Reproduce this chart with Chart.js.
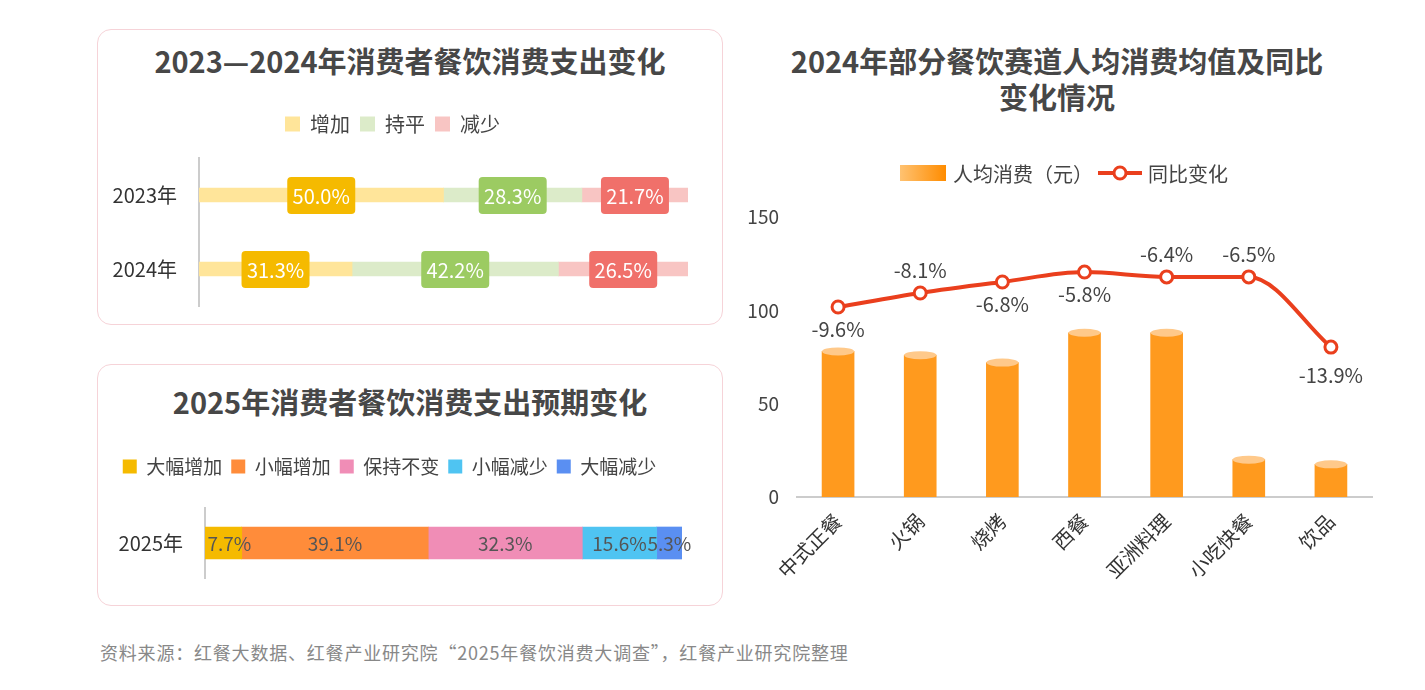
<!DOCTYPE html>
<html><head><meta charset="utf-8">
<script src="https://cdn.jsdelivr.net/npm/chart.js@4.4.1/dist/chart.umd.min.js"></script>
<style>
body{margin:0;width:1425px;height:690px;background:#fff;font-family:"Noto Sans CJK SC","Noto Sans",sans-serif;position:relative;overflow:hidden;color:#444}
.panel{position:absolute;border:1.5px solid #f6d3d8;border-radius:14px;box-sizing:border-box}
.title{position:absolute;font-weight:bold;font-size:29px;color:#474747;text-align:center;line-height:36px}
.cv{position:absolute}
.src{position:absolute;left:100px;top:639px;font-size:18px;color:#888;letter-spacing:0.8px}
</style></head><body>
<div class="panel" style="left:97px;top:29px;width:626px;height:296px"></div>
<div class="panel" style="left:97px;top:364px;width:626px;height:242px"></div>
<div class="title" style="left:97px;top:42px;width:626px">2023—2024年消费者餐饮消费支出变化</div>
<div class="title" style="left:97px;top:383px;width:626px">2025年消费者餐饮消费支出预期变化</div>
<div class="title" style="left:740px;top:42px;width:634px">2024年部分餐饮赛道人均消费均值及同比<br>变化情况</div>
<div class="cv" style="left:97px;top:104px;width:626px;height:228px"><canvas id="c1"></canvas></div>
<div class="cv" style="left:97px;top:448px;width:626px;height:156px"><canvas id="c2"></canvas></div>
<div class="cv" style="left:740px;top:152px;width:685px;height:460px"><canvas id="c3"></canvas></div>
<div class="src">资料来源：红餐大数据、红餐产业研究院“2025年餐饮消费大调查”，红餐产业研究院整理</div>
<script>
const years1=['2023年','2024年'];
const inc=[50.0,31.3], flat=[28.3,42.2], dec=[21.7,26.5];
const years2=['2025年'];
const s2Names=['大幅增加','小幅增加','保持不变','小幅减少','大幅减少'];
const s2Vals=[[7.7],[39.1],[32.3],[15.6],[5.3]];
const cats=['中式正餐','火锅','烧烤','西餐','亚洲料理','小吃快餐','饮品'];
const spend=[78,76,72,88,88,20,17.5];
const yoyPos=[101.8,109.3,115.2,120.5,117.9,117.9,80.3];
const yoyLabels=['-9.6%','-8.1%','-6.8%','-5.8%','-6.4%','-6.5%','-13.9%'];
const yTicks=[0,50,100,150];

Chart.defaults.font.family='"Noto Sans CJK SC","Noto Sans",sans-serif';
Chart.defaults.color='#444';
Chart.defaults.animation=false;

function rr(ctx,x,y,w,h,r){ctx.beginPath();ctx.moveTo(x+r,y);ctx.arcTo(x+w,y,x+w,y+h,r);ctx.arcTo(x+w,y+h,x,y+h,r);ctx.arcTo(x,y+h,x,y,r);ctx.arcTo(x,y,x+w,y,r);ctx.closePath();}
function legendExtra(h){return {id:'lx',beforeInit(ch){const L=ch.legend;const f=L.fit;L.fit=function(){f.call(L);L.height+=h;};}};}

const boxCols=['#F5BA00','#9CCB62','#F0706A'];
new Chart(document.getElementById('c1'),{type:'bar',
 data:{labels:years1,datasets:[
  {label:'增加',data:inc,backgroundColor:'#FFE59A'},
  {label:'持平',data:flat,backgroundColor:'#DCEBC9'},
  {label:'减少',data:dec,backgroundColor:'#F8C5C3'}]},
 options:{indexAxis:'y',responsive:true,maintainAspectRatio:false,
  layout:{padding:{right:35,bottom:4}},
  datasets:{bar:{barThickness:14,borderSkipped:false}},
  plugins:{legend:{labels:{boxWidth:15,boxHeight:15,font:{size:20},color:'#444',padding:10}},tooltip:{enabled:false}},
  scales:{x:{stacked:true,min:0,max:100,display:false},
   y:{stacked:true,grid:{display:false},border:{color:'#ccc',width:2},ticks:{font:{size:20},color:'#333',padding:14},afterFit:s=>{s.width=102}}}},
 plugins:[legendExtra(14),{afterDatasetsDraw(ch){const c=ch.ctx;ch.data.datasets.forEach((ds,i)=>{ch.getDatasetMeta(i).data.forEach((el,j)=>{const cx=(el.x+el.base)/2;c.fillStyle=boxCols[i];rr(c,cx-34,el.y-18,68,37,4);c.fill();c.fillStyle='#fff';c.font='20px "Noto Sans CJK SC"';c.textAlign='center';c.textBaseline='middle';c.fillText(ds.data[j].toFixed(1)+'%',cx,el.y+1);});});}}]
});

const c2cols=['#F5BA00','#FF8C3A','#F08DB6','#4FC4F2','#5A8FF2'];
new Chart(document.getElementById('c2'),{type:'bar',
 data:{labels:years2,datasets:s2Names.map((n,i)=>({label:n,data:s2Vals[i],backgroundColor:c2cols[i]}))},
 options:{indexAxis:'y',responsive:true,maintainAspectRatio:false,
  layout:{padding:{right:41,bottom:16}},
  datasets:{bar:{barThickness:32}},
  plugins:{legend:{labels:{boxWidth:14,boxHeight:14,font:{size:19},color:'#444',padding:9}},tooltip:{enabled:false}},
  scales:{x:{stacked:true,min:0,max:100,display:false},
   y:{stacked:true,grid:{display:false},border:{color:'#ccc',width:2},ticks:{font:{size:20},color:'#333',padding:14},afterFit:s=>{s.width=108}}}},
 plugins:[legendExtra(22),{afterDatasetsDraw(ch){const c=ch.ctx;ch.data.datasets.forEach((ds,i)=>{ch.getDatasetMeta(i).data.forEach((el,j)=>{let cx=(el.x+el.base)/2;if(i==0)cx+=6;c.fillStyle='#555';c.font='19px "Noto Sans CJK SC"';c.textAlign='center';c.textBaseline='middle';c.fillText(ds.data[j]+'%',cx,el.y+1);});});}}]
});

function barGrad(ctx){const el=ctx.element;const ch=ctx.chart;if(!el||el.x===undefined||isNaN(el.x))return '#FF9A1E';
 const g=ch.ctx.createLinearGradient(el.x-16,0,el.x+16,0);g.addColorStop(0,'#FFC271');g.addColorStop(0.5,'#FF9A1E');g.addColorStop(1,'#FF8C00');return g;}
const below=[true,false,true,true,false,false,true];
new Chart(document.getElementById('c3'),{
 data:{labels:cats,datasets:[
  {type:'line',label:'同比变化',data:yoyPos,borderColor:'#EA3F1D',borderWidth:4,tension:0.4,cubicInterpolationMode:'monotone',pointRadius:6,pointBackgroundColor:'#fff',pointBorderColor:'#EA3F1D',pointBorderWidth:3,order:0},
  {type:'bar',label:'人均消费（元）',data:spend,backgroundColor:barGrad,barThickness:32,order:1}]},
 options:{responsive:true,maintainAspectRatio:false,layout:{padding:{right:53,top:65}},
  plugins:{legend:{display:false},tooltip:{enabled:false}},
  scales:{y:{min:0,max:150,afterBuildTicks:s=>{s.ticks=yTicks.map(v=>({value:v}))},grid:{display:false},border:{display:false},ticks:{font:{size:19},color:'#444',padding:10},afterFit:s=>{s.width=57}},
   x:{grid:{display:false},border:{color:'#ccc',width:2},ticks:{font:{size:20},color:'#333',maxRotation:45,minRotation:45,padding:4},afterFit:s=>{s.height=115}}}},
 plugins:[{afterDatasetsDraw(ch){const c=ch.ctx;
  ch.getDatasetMeta(1).data.forEach(el=>{c.fillStyle='#FFC98A';c.beginPath();c.ellipse(el.x,el.y,16,4,0,0,Math.PI*2);c.fill();});
  c.font='20px "Noto Sans CJK SC"';c.fillStyle='#444';c.textAlign='center';c.textBaseline='middle';
  ch.getDatasetMeta(0).data.forEach((el,i)=>{c.fillText(yoyLabels[i],el.x,el.y+(below[i]?(i==6?28:22):-23));});
  const ly=21;
  const g=c.createLinearGradient(160,0,206,0);g.addColorStop(0,'#FFC271');g.addColorStop(1,'#FF8C00');
  c.fillStyle=g;c.fillRect(160,ly-8,46,16);
  c.fillStyle='#444';c.textAlign='left';c.font='20px "Noto Sans CJK SC"';c.fillText('人均消费（元）',213,ly+1);
  c.strokeStyle='#EA3F1D';c.lineWidth=4;c.beginPath();c.moveTo(358,ly);c.lineTo(402,ly);c.stroke();
  c.fillStyle='#fff';c.lineWidth=3;c.beginPath();c.arc(380,ly,6,0,Math.PI*2);c.fill();c.stroke();
  c.fillStyle='#444';c.fillText('同比变化',408,ly+1);
  }}]
});
</script></body></html>
